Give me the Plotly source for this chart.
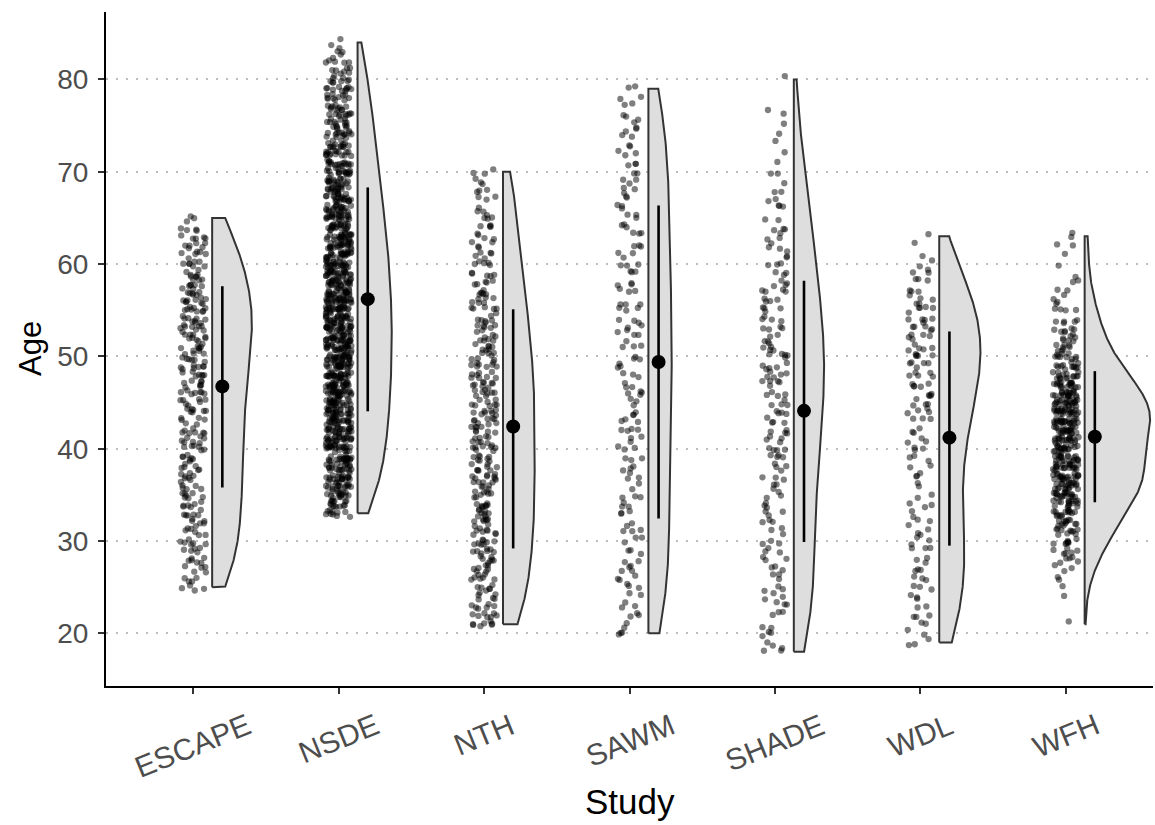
import numpy as np
import plotly.graph_objects as go

# ---------------- data ----------------
studies = ["ESCAPE", "NSDE", "NTH", "SAWM", "SHADE", "WDL", "WFH"]

# number of participants at each integer age, starting at the given youngest age
escape_start = 25
escape_counts = [4, 4, 5, 6, 5, 6, 6, 6, 6, 6, 7, 6, 7, 6, 7, 6, 7, 7, 6, 7,
                 7, 7, 8, 7, 8, 8, 8, 9, 9, 9, 9, 9, 8, 8, 7, 7, 6, 6, 5, 4, 3]

nsde_start = 33
nsde_counts = [10, 14, 16, 18, 19, 21, 22, 23, 24, 25, 25, 26, 26, 27, 27, 27, 28, 28,
               28, 28, 28, 28, 28, 27, 27, 27, 26, 26, 25, 24, 24, 23, 22, 21, 20, 19,
               18, 18, 17, 16, 15, 14, 13, 12, 11, 11, 10, 9, 7, 6, 4, 2]

nth_start = 21
nth_counts = [7, 7, 6, 6, 6, 7, 7, 7, 7, 8, 8, 8, 8, 8, 8, 8, 8, 8, 8, 8,
              8, 8, 8, 8, 8, 8, 8, 8, 8, 7, 7, 7, 7, 6, 6, 6, 6, 5, 5, 5,
              5, 4, 4, 4, 4, 3, 3, 3, 3, 3]

sawm_start = 20
sawm_counts = [3, 2, 3, 3, 2, 3, 3, 4, 2, 3, 3, 3, 2, 3, 3, 3, 2, 3, 3, 3,
               3, 3, 4, 3, 3, 3, 4, 3, 3, 3, 3, 3, 3, 4, 3, 3, 3, 3, 3, 3,
               3, 3, 3, 3, 3, 3, 3, 2, 3, 3, 2, 3, 3, 2, 3, 3, 3, 2, 2, 2]

shade_start = 18
shade_counts = [3, 2, 3, 2, 3, 3, 3, 3, 3, 3, 3, 3, 3, 3, 3, 3, 3, 3, 3, 3,
                4, 4, 4, 4, 4, 4, 4, 4, 4, 5, 5, 5, 5, 5, 4, 4, 4, 4, 4, 4,
                4, 3, 3, 3, 3, 3, 3, 2, 3, 2, 2, 1, 2, 1, 1, 1, 1, 1, 1, 1,
                0, 0, 1]

wdl_start = 19
wdl_counts = [3, 2, 2, 3, 2, 3, 3, 3, 3, 3, 3, 3, 3, 3, 2, 3, 2, 2, 3, 2,
              3, 3, 3, 3, 3, 4, 4, 4, 5, 5, 5, 5, 5, 5, 5, 5, 5, 4, 4, 3,
              3, 2, 1, 1, 1]

wfh_start = 21
wfh_counts = [1, 0, 0, 1, 1, 2, 3, 5, 6, 8, 10, 12, 14, 16, 18, 20, 21, 21, 20, 19,
              20, 22, 24, 24, 22, 20, 18, 15, 12, 10, 8, 7, 6, 5, 4, 3, 3, 2, 1, 1,
              1, 2, 2]

# mean and mean +/- 1 SD per study
age_mean = [46.75, 56.2, 42.4, 49.4, 44.1, 41.2, 41.3]
age_sd_low = [35.8, 44.05, 29.2, 32.45, 29.9, 29.5, 34.2]
age_sd_high = [57.6, 68.3, 55.1, 66.35, 58.2, 52.7, 48.4]

starts = [escape_start, nsde_start, nth_start, sawm_start, shade_start, wdl_start, wfh_start]
counts = [escape_counts, nsde_counts, nth_counts, sawm_counts, shade_counts, wdl_counts, wfh_counts]


def expand(start, cnts):
    ages = np.arange(start, start + len(cnts))
    return np.repeat(ages, cnts).astype(float)


samples = [expand(s, c) for s, c in zip(starts, counts)]


def kde_trim(vals, n=512):
    v = np.asarray(vals)
    sd = v.std(ddof=1)
    iqr = np.subtract(*np.percentile(v, [75, 25]))
    bw = 0.9 * min(sd, iqr / 1.34) * len(v) ** (-0.2)
    grid = np.linspace(v.min(), v.max(), n)
    dens = np.exp(-0.5 * ((grid[:, None] - v[None, :]) / bw) ** 2).sum(axis=1)
    dens /= (len(v) * bw * np.sqrt(2 * np.pi))
    return grid, dens


def display_jitter(n, group):
    """Deterministic hash-based offsets in [-0.5, 0.5), used only to spread marks on screen."""
    k = np.arange(1, n + 1, dtype=float) + 997.0 * group
    u = np.mod(np.sin(k * 12.9898) * 43758.5453, 1.0) - 0.5
    v = np.mod(np.sin(k * 78.233) * 24634.6345, 1.0) - 0.5
    return u, v


kdes = [kde_trim(s) for s in samples]
dmax = max(d.max() for _, d in kdes)

POINT_COLOR = "rgba(0,0,0,0.5)"
VIOLIN_FILL = "#DEDEDE"
VIOLIN_LINE = "#333333"
TEXT_GREY = "#4D4D4D"
FONT = "Liberation Sans, Arial, Helvetica, sans-serif"

JIT_W = 0.088  # horizontal jitter half-width (x units)
JIT_H = 0.4    # vertical jitter half-height (years), as position_jitter default

fig = go.Figure()

positions = np.arange(1, len(studies) + 1)

# jittered raw points
for gi, (pos, s) in enumerate(zip(positions, samples)):
    u, v = display_jitter(len(s), gi)
    fig.add_trace(go.Scatter(
        x=pos + 2 * JIT_W * u, y=s + 2 * JIT_H * v, mode="markers",
        marker=dict(size=6.3, color=POINT_COLOR, line=dict(width=0)),
        showlegend=False, hoverinfo="skip",
    ))

# half violins (area-scaled, trimmed)
for pos, (grid, dens) in zip(positions, kdes):
    base = pos + 0.13
    xr = base + 0.45 * dens / dmax
    xs = np.concatenate([[base], xr, [base, base]])
    ys = np.concatenate([[grid[0]], grid, [grid[-1], grid[0]]])
    fig.add_trace(go.Scatter(
        x=xs, y=ys, mode="lines", fill="toself", fillcolor=VIOLIN_FILL,
        line=dict(color=VIOLIN_LINE, width=2), showlegend=False, hoverinfo="skip",
    ))

# mean +/- SD
m = np.array(age_mean)
lo = np.array(age_sd_low)
hi = np.array(age_sd_high)
fig.add_trace(go.Scatter(
    x=positions + 0.2, y=m, mode="markers",
    marker=dict(size=14, color="black"),
    error_y=dict(type="data", symmetric=False, array=hi - m, arrayminus=m - lo,
                 width=0, thickness=2.6, color="black"),
    showlegend=False,
))

# rotated category labels centred under the ticks
for pos, name in zip(positions, studies):
    fig.add_annotation(
        x=pos, y=0, xref="x", yref="paper", text=name, showarrow=False,
        textangle=-22, xanchor="center", yanchor="top", yshift=-19,
        font=dict(size=30, color=TEXT_GREY, family=FONT),
    )

fig.add_annotation(x=0.5, y=0, xref="paper", yref="paper", text="Study",
                   showarrow=False, xanchor="center", yanchor="middle", yshift=-115,
                   font=dict(size=35, color="black", family=FONT))
fig.add_annotation(x=0, y=0.5, xref="paper", yref="paper", text="Age",
                   showarrow=False, xanchor="center", yanchor="middle", xshift=-76,
                   textangle=-90, font=dict(size=31, color="black", family=FONT))

fig.update_layout(
    width=1155, height=825,
    margin=dict(l=106, r=2, t=12, b=139),
    plot_bgcolor="white", paper_bgcolor="white",
    font=dict(family=FONT),
    showlegend=False,
)
fig.update_xaxes(
    range=[0.4, 7.6], tickvals=list(positions), showticklabels=False,
    showline=True, linecolor="black", linewidth=2,
    ticks="outside", ticklen=6, tickwidth=1.5, tickcolor="#333333",
    showgrid=False, zeroline=False,
)
fig.update_yaxes(
    range=[14.3, 87.3], tickvals=[20, 30, 40, 50, 60, 70, 80],
    showline=True, linecolor="black", linewidth=2,
    ticks="outside", ticklen=6, tickwidth=1.5, tickcolor="#333333",
    tickfont=dict(size=28, color=TEXT_GREY, family=FONT), ticklabelstandoff=4,
    showgrid=True, gridcolor="#BDBDBD", gridwidth=1.5, griddash="2px,8px",
    zeroline=False,
)

fig.write_html("out.html", config={"displayModeBar": False},
               post_script="document.body.style.margin='0px';")
